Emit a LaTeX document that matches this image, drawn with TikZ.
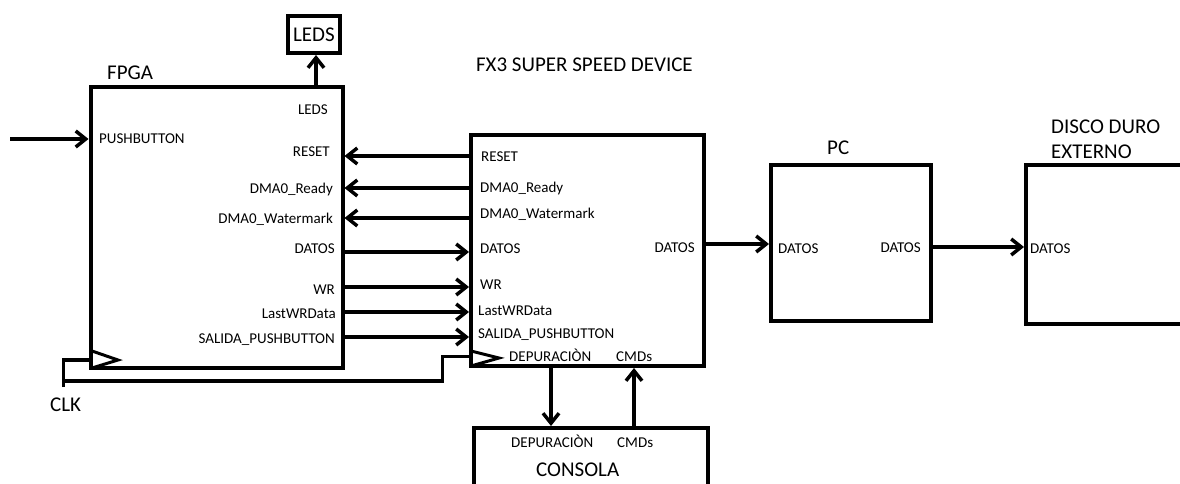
\documentclass[tikz,border=0pt]{standalone}
\usepackage{fontspec}
\setmainfont{Carlito}
\usetikzlibrary{arrows.meta}
\begin{document}
\begin{tikzpicture}[x=1pt,y=-1pt,
  blk/.style={draw, line width=4pt, inner sep=0pt},
  sm/.style={font=\fontsize{15}{18}\selectfont, inner sep=0pt},
  lg/.style={font=\fontsize{21}{25}\selectfont, inner sep=0pt},
  arr/.style={line width=3.5pt, -{Straight Barb[length=10pt,width=16pt]}},
  wire/.style={line width=3.5pt},
  clktri/.style={line width=3pt, line join=miter}]
\fill[white] (0,0) rectangle (1180,484);
\clip (0,0) rectangle (1180,484);
% boxes
\node[blk, minimum width=252pt, minimum height=281pt] (fpga) at (216.5,227.5) {};
\node[blk, lg, minimum width=52pt, minimum height=37pt] (leds) at (314,34.5) {LEDS};
\node[blk, minimum width=233pt, minimum height=231pt] (fx3) at (587.5,250.5) {};
\node[blk, minimum width=160pt, minimum height=156pt] (pc) at (851,243) {};
\node[blk, minimum width=174pt, minimum height=159pt] (disco) at (1113,244.5) {};
\node[blk, minimum width=234pt, minimum height=92pt] (consola) at (591,474) {};
% titles
\node[lg, anchor=base west] (tfpga) at (107,80) {FPGA};
\node[lg, anchor=base west] (tfx3) at (476,72) {FX3 SUPER SPEED DEVICE};
\node[lg, anchor=base west] (tpc) at (827,154) {PC};
\node[lg, anchor=base west] (tdisco1) at (1051,133) {DISCO DURO};
\node[lg, anchor=base west] (tdisco2) at (1051,158) {EXTERNO};
\node[lg, anchor=base west] (tclk) at (50,411) {CLK};
\node[lg, anchor=base west] (tcons) at (536,476) {CONSOLA};
% FPGA labels
\node[sm, anchor=base east] (fleds) at (328,114) {LEDS};
\node[sm, anchor=base west] (fpush) at (99,143) {PUSHBUTTON};
\node[sm, anchor=base east] (freset) at (330,157) {RESET};
\node[sm, anchor=base east] (fready) at (333,193) {DMA0\_Ready};
\node[sm, anchor=base east] (fwater) at (333,223) {DMA0\_Watermark};
\node[sm, anchor=base east] (fdatos) at (335,253) {DATOS};
\node[sm, anchor=base east] (fwr) at (335,294) {WR};
\node[sm, anchor=base east] (flast) at (336,318) {LastWRData};
\node[sm, anchor=base east] (fsal) at (335,343) {SALIDA\_PUSHBUTTON};
% FX3 labels
\node[sm, anchor=base west] (xreset) at (481,161) {RESET};
\node[sm, anchor=base west] (xready) at (480,192) {DMA0\_Ready};
\node[sm, anchor=base west] (xwater) at (480,218) {DMA0\_Watermark};
\node[sm, anchor=base west] (xdatos) at (480,253) {DATOS};
\node[sm, anchor=base west] (xwr) at (480,289) {WR};
\node[sm, anchor=base west] (xlast) at (478,315) {LastWRData};
\node[sm, anchor=base west] (xsal) at (478,338) {SALIDA\_PUSHBUTTON};
\node[sm, anchor=base west] (xdep) at (509,361) {DEPURACIÒN};
\node[sm, anchor=base west] (xcmd) at (616,361) {CMDs};
\node[sm, anchor=base east] (xout) at (695,252) {DATOS};
% PC / disco / consola labels
\node[sm, anchor=base west] (pin) at (778,253) {DATOS};
\node[sm, anchor=base east] (pout) at (921,252) {DATOS};
\node[sm, anchor=base west] (din) at (1030,253) {DATOS};
\node[sm, anchor=base west] (cdep) at (511,447) {DEPURACIÒN};
\node[sm, anchor=base west] (ccmd) at (617,447) {CMDs};
% row coordinates
\coordinate (yreset) at (0,156);
\coordinate (yready) at (0,188);
\coordinate (ywater) at (0,218);
\coordinate (ydatos) at (0,252);
\coordinate (ywr) at (0,287);
\coordinate (ylast) at (0,312);
\coordinate (ysal) at (0,337);
\coordinate (ypc) at (0,244);
\coordinate (ydisco) at (0,247);
\coordinate (xl) at (316,0);
\coordinate (xdd) at (551,0);
\coordinate (xcc) at (634,0);
\coordinate (pbsrc) at (10,139);
\coordinate (clk) at (63.5,387);
% connectors
\draw[arr] (fpga.north -| xl) -- (leds.south -| xl);
\draw[arr] (pbsrc) -- (fpga.west |- pbsrc);
\draw[arr] (fx3.west |- yreset) -- (fpga.east |- yreset);
\draw[arr] (fx3.west |- yready) -- (fpga.east |- yready);
\draw[arr] (fx3.west |- ywater) -- (fpga.east |- ywater);
\draw[arr] (fpga.east |- ydatos) -- (fx3.west |- ydatos);
\draw[arr] (fpga.east |- ywr) -- (fx3.west |- ywr);
\draw[arr] (fpga.east |- ylast) -- (fx3.west |- ylast);
\draw[arr] (fpga.east |- ysal) -- (fx3.west |- ysal);
\draw[arr] (fx3.east |- ypc) -- (pc.west |- ypc);
\draw[arr] (pc.east |- ydisco) -- (disco.west |- ydisco);
\draw[arr] (fx3.south -| xdd) -- (consola.north -| xdd);
\draw[arr] (consola.north -| xcc) -- (fx3.south -| xcc);
% clock wires
\draw[wire] (clk) -- (63.5,360) -- (fpga.west |- 0,360);
\draw[wire] (63.5,381) -- (442.5,381) -- (442.5,356.5) -- (fx3.west |- 0,356.5);
% clock triangles
\draw[clktri] (92,351) -- (118,360) -- (92,368);
\draw[clktri] (471,351) -- (499,358) -- (471,366);
\end{tikzpicture}
\end{document}
